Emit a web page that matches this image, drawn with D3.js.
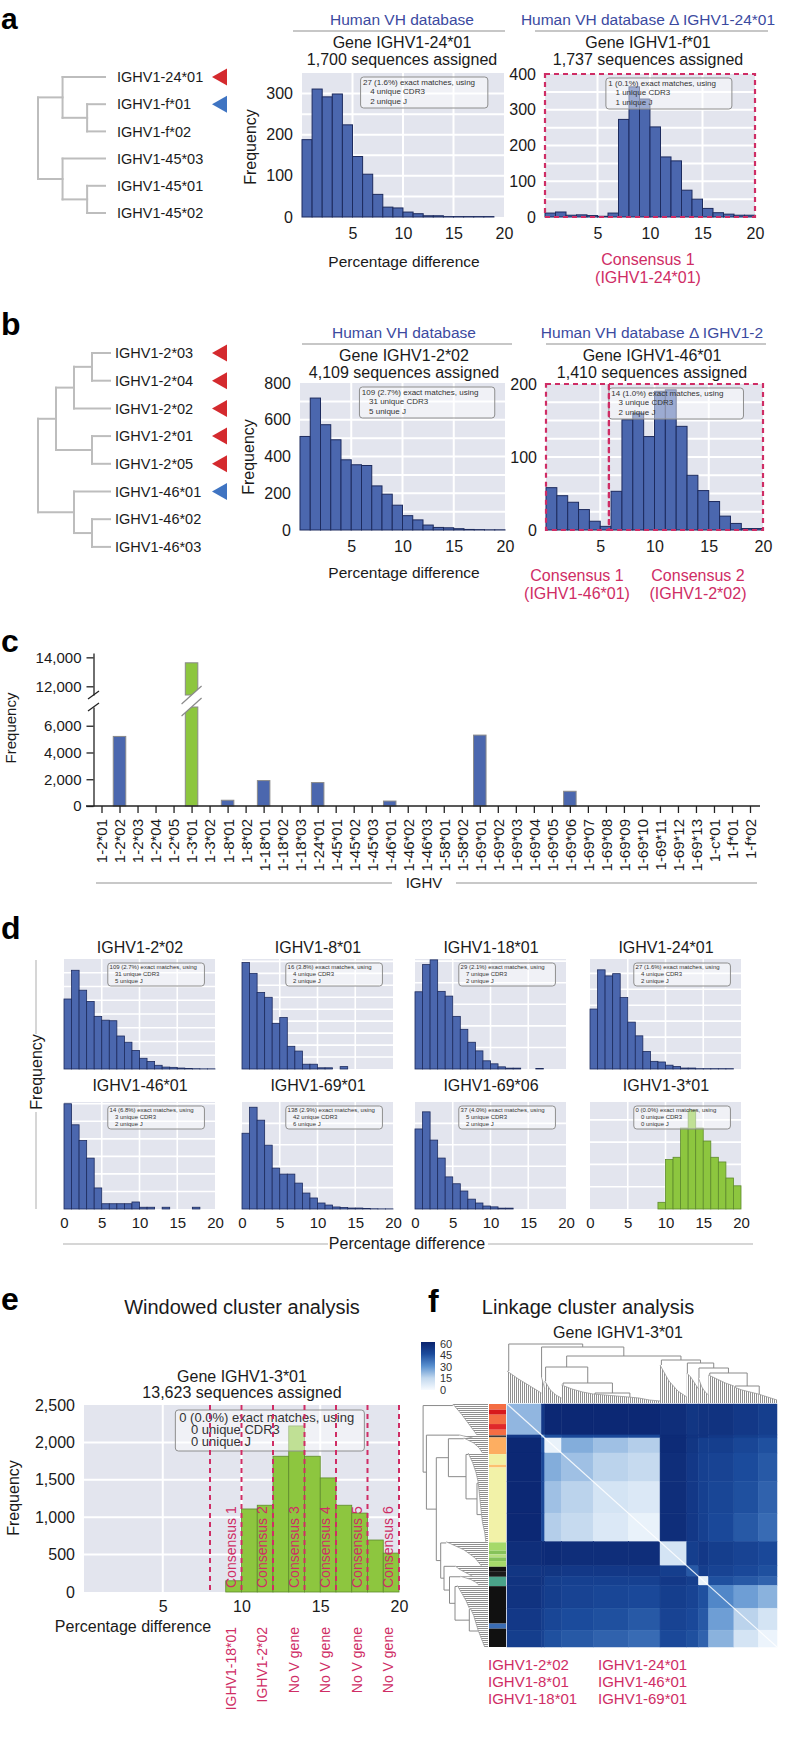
<!DOCTYPE html>
<html>
<head>
<meta charset="utf-8">
<script src="https://cdn.jsdelivr.net/npm/d3@7"></script>
<style>
  body { margin: 0; background: #fff; }
  svg { display: block; font-family: "Liberation Sans", Arial, Helvetica, sans-serif; }
</style>
</head>
<body>
<svg id="chart"></svg>
<script>
// ---------------- DATA ----------------
// a / b : allele dendrograms (h = merge height)
const treeA = {h: 3, c: [
  {h: 1.9, c: ['IGHV1-24*01', {h: 0.8, c: ['IGHV1-f*01', 'IGHV1-f*02']}]},
  {h: 1.9, c: ['IGHV1-45*03', {h: 0.8, c: ['IGHV1-45*01', 'IGHV1-45*02']}]}
]};
const marksA = {'IGHV1-24*01': 'red', 'IGHV1-f*01': 'blue'};
const treeB = {h: 4, c: [
  {h: 3, c: [{h: 2, c: [{h: 1, c: ['IGHV1-2*03', 'IGHV1-2*04']}, 'IGHV1-2*02']},
             {h: 1, c: ['IGHV1-2*01', 'IGHV1-2*05']}]},
  {h: 2, c: ['IGHV1-46*01', {h: 1, c: ['IGHV1-46*02', 'IGHV1-46*03']}]}
]};
const marksB = {'IGHV1-2*03': 'red', 'IGHV1-2*04': 'red', 'IGHV1-2*02': 'red',
  'IGHV1-2*01': 'red', 'IGHV1-2*05': 'red', 'IGHV1-46*01': 'blue'};

// histograms, 1% bins from 0 to 20
const histA1 = [188, 311, 292, 299, 224, 147, 104, 55, 24, 22, 12, 8, 3, 3, 1, 1, 1, 1, 1, 0];
const histA2 = [11, 14, 5, 6, 4, 2, 11, 273, 364, 330, 252, 168, 157, 75, 50, 24, 12, 8, 5, 5];
const histB1 = [509, 718, 573, 491, 382, 355, 351, 240, 195, 135, 78, 55, 27, 14, 12, 7, 3, 2, 1, 1];
const histB2 = [58, 47, 38, 28, 12, 5, 53, 151, 160, 128, 190, 192, 142, 75, 54, 39, 19, 9, 2, 2];
const hist8_01 = [89, 80, 64, 60, 38, 43, 19, 15, 4, 4, 1, 1, 0, 2, 0, 0, 0, 0, 0, 0];
const hist18_01 = [179, 242, 253, 180, 169, 122, 92, 62, 42, 19, 12, 5, 2, 2, 0, 0, 1, 0, 0, 0];
const hist46_01 = [60, 48, 39, 29, 12, 3, 3, 3, 3, 4, 1, 1, 0, 1, 0, 0, 0, 1, 0, 0];
const hist69_01 = [708, 951, 830, 597, 382, 326, 326, 242, 149, 103, 56, 37, 19, 14, 9, 9, 4, 2, 1, 1];
const hist69_06 = [187, 227, 161, 119, 75, 59, 42, 23, 14, 7, 5, 2, 2, 0, 0, 0, 0, 0, 0, 0];
const hist3_01 = [0, 0, 0, 0, 0, 0, 0, 0, 0, 150, 1110, 1160, 1815, 2220, 1815, 1525, 1160, 1055, 695, 520];

// c : assignments per IGHV1 allele
const cCategories = ['1-2*01', '1-2*02', '1-2*03', '1-2*04', '1-2*05', '1-3*01', '1-3*02', '1-8*01',
  '1-8*02', '1-18*01', '1-18*02', '1-18*03', '1-24*01', '1-45*01', '1-45*02', '1-45*03', '1-46*01',
  '1-46*02', '1-46*03', '1-58*01', '1-58*02', '1-69*01', '1-69*02', '1-69*03', '1-69*04', '1-69*05',
  '1-69*06', '1-69*07', '1-69*08', '1-69*09', '1-69*10', '1-69*11', '1-69*12', '1-69*13', '1-c*01',
  '1-f*01', '1-f*02'];
const cValues = [0, 5200, 0, 0, 0, 13623, 0, 430, 0, 1900, 0, 0, 1750, 0, 0, 0, 370, 0, 0, 0, 0,
  5300, 0, 0, 0, 0, 1100, 0, 0, 0, 0, 0, 0, 0, 0, 0, 0];
const cHighlight = ['1-3*01'];
const cTicksLow = [0, 2000, 4000, 6000];
const cTicksHigh = [12000, 14000];

// e : windows and their assignments
const eWindows = [8, 10, 12, 14, 16, 18, 20];
const eConsensus = ['Consensus 1', 'Consensus 2', 'Consensus 3', 'Consensus 4', 'Consensus 5', 'Consensus 6'];
const eAssigned = ['IGHV1-18*01', 'IGHV1-2*02', 'No V gene', 'No V gene', 'No V gene', 'No V gene'];

// f : linkage clusters (leaf counts), block distances and dendrogram outlines
const hmNames = ['A', 'B0', 'B1', 'B2', 'B3', 'B4', 'C', 'S', 'D', 'E1', 'E2', 'E3'];
const hmSizes = [103, 10, 50, 95, 105, 95, 80, 35, 30, 76, 73, 56];
const hmDist = [
  [22, 52, 58, 58, 58, 58, 56, 53, 54, 54, 52, 50],
  [52, 30, 44, 46, 46, 46, 57, 54, 54, 52, 50, 48],
  [58, 44, 4, 24, 20, 17, 57, 53, 50, 50, 47, 44],
  [58, 46, 24, 20, 16, 14, 56, 52, 49, 48, 45, 42],
  [58, 46, 20, 16, 10, 8, 56, 52, 49, 47, 44, 40],
  [58, 46, 17, 14, 8, 4, 56, 52, 49, 46, 42, 38],
  [56, 57, 57, 56, 56, 56, 10, 50, 52, 50, 48, 46],
  [53, 54, 53, 52, 52, 52, 50, 42, 50, 48, 46, 44],
  [54, 54, 50, 49, 49, 49, 52, 50, 4, 44, 42, 40],
  [54, 52, 50, 48, 47, 46, 50, 48, 44, 32, 27, 23],
  [52, 50, 47, 45, 44, 42, 48, 46, 42, 27, 16, 10],
  [50, 48, 44, 42, 40, 38, 46, 44, 40, 23, 10, 3]
];
const hmSky = [[32, 24, 17, 10], [26, 22, 18, 14], [22, 13, 8, 5], [18, 14, 11, 9], [9, 8, 7, 6],
  [6, 5, 3, 2], [38, 22, 12, 6], [30, 26, 20, 14], [25, 16, 11, 8], [28, 24, 20, 17],
  [16, 13, 11, 9], [9, 7, 5, 3]];
const hmTree = {h: 59, c: ['A', {h: 56, c: ['B0', {h: 47, c: [
  {h: 36, c: ['B1', {h: 20, c: ['B2', {h: 10, c: ['B3', 'B4']}]}]},
  {h: 43, c: ['C', {h: 40, c: ['S', {h: 35, c: ['D', {h: 30, c: ['E1', {h: 17, c: ['E2', 'E3']}]}]}]}]}
]}]}]};
const stripSizes = [17, 15, 28, 17, 17, 6, 50, 32, 8, 224, 25, 11, 9, 11, 17, 15, 15, 28, 112, 15, 55];
const stripColors = ['#f46d43', '#d7191c', '#f46d43', '#e0282a', '#f46d43', '#3a3a3a', '#fdae61',
  '#f1f1a2', '#fdc070', '#f2f2a8', '#a6d96a', '#86c25a', '#b6df7e', '#86c25a', '#a6d96a', '#111111',
  '#1a1a1a', '#4aa38a', '#111111', '#3a6db5', '#111111'];
const cbTicks = [0, 15, 30, 45, 60];
const fLabelsLeft = ['IGHV1-2*02', 'IGHV1-8*01', 'IGHV1-18*01'];
const fLabelsRight = ['IGHV1-24*01', 'IGHV1-46*01', 'IGHV1-69*01'];

// ---------------- SETUP ----------------
const INK = '#1a1a1a', TITLE_BLUE = '#3b4a9f', CRIMSON = '#cf2d65';
const BG = '#e3e5ee', BAR = '#4b67ae', BAR_EDGE = '#1d2b5e', GREEN = '#8dc63f', GREEN_EDGE = '#5e8a2c';
const TREE = '#bdbdbd', RED_MARK = '#d42a2e', BLUE_MARK = '#3f74c2';

const svg = d3.select('#chart').attr('width', 786).attr('height', 1755);
svg.append('rect').attr('width', 786).attr('height', 1755).attr('fill', '#fff');
const defs = svg.append('defs');

function txt(g, x, y, s, size, o = {}) {
  return g.append('text').attr('x', x).attr('y', y).attr('font-size', size)
    .attr('fill', o.fill || INK).attr('text-anchor', o.anchor || 'start')
    .attr('font-weight', o.weight || null).text(s);
}
// vertical text read bottom to top, xc = visual centre of the glyphs
function vtxt(g, xc, y, s, size, o = {}) {
  const x = xc + size * 0.36;
  return txt(g, x, y, s, size, o).attr('transform', `rotate(-90,${x},${y})`);
}
function line(g, x1, y1, x2, y2, color, w, dash) {
  return g.append('line').attr('x1', x1).attr('y1', y1).attr('x2', x2).attr('y2', y2)
    .attr('stroke', color).attr('stroke-width', w).attr('stroke-dasharray', dash || null);
}

// ---------------- TREES ----------------
function drawTree(g, tree, marks, o) {
  const root = d3.hierarchy(tree, d => d.c);
  const leaves = root.leaves();
  const xh = d3.scaleLinear().domain([0, o.hMax]).range([o.leafX, o.rootX]);
  const row = d3.scaleLinear().domain([0, 1]).range([o.y0, o.y0 + o.step]);
  leaves.forEach((l, i) => { l.py = row(i); });
  root.eachAfter(n => {
    if (n.children) n.py = (n.children[0].py + n.children[n.children.length - 1].py) / 2;
  });
  const hOf = n => (n.children ? n.data.h : 0);
  const segs = [];
  root.descendants().filter(n => n.children).forEach(n => {
    const x = xh(n.data.h);
    segs.push([x, n.children[0].py, x, n.children[n.children.length - 1].py]);
    n.children.forEach(c => segs.push([x, c.py, xh(hOf(c)), c.py]));
  });
  g.selectAll(null).data(segs).join('line')
    .attr('x1', d => d[0]).attr('y1', d => d[1]).attr('x2', d => d[2]).attr('y2', d => d[3])
    .attr('stroke', TREE).attr('stroke-width', 2).attr('stroke-linecap', 'square');
  g.selectAll(null).data(leaves).join('text')
    .attr('x', o.labelX).attr('y', d => d.py).attr('dy', '0.36em')
    .attr('font-size', 14.5).attr('fill', INK).text(d => d.data);
  g.selectAll(null).data(leaves.filter(d => marks[d.data])).join('path')
    .attr('d', d => `M${o.markX + 15},${d.py - 8.5}L${o.markX},${d.py}L${o.markX + 15},${d.py + 8.5}Z`)
    .attr('fill', d => (marks[d.data] === 'red' ? RED_MARK : BLUE_MARK));
}

// ---------------- HISTOGRAM ----------------
function histogram(parent, o) {
  const g = parent.append('g');
  const x = d3.scaleLinear().domain([0, 20]).range([o.left, o.left + o.width]);
  const y = d3.scaleLinear().domain([0, o.yMax]).range([o.top + o.height, o.top]);
  g.append('rect').attr('x', o.left).attr('y', o.top).attr('width', o.width).attr('height', o.height)
    .attr('fill', BG);
  const gridY = o.gridStep ? d3.range(o.gridStep, o.yMax, o.gridStep) : y.ticks(7).filter(v => v > 0 && v < o.yMax);
  g.selectAll(null).data(gridY).join('line')
    .attr('x1', o.left).attr('x2', o.left + o.width).attr('y1', d => y(d)).attr('y2', d => y(d))
    .attr('stroke', '#fff').attr('stroke-width', o.gridW || 2);
  g.selectAll(null).data([5, 10, 15]).join('line')
    .attr('x1', d => x(d)).attr('x2', d => x(d)).attr('y1', o.top).attr('y2', o.top + o.height)
    .attr('stroke', '#fff').attr('stroke-width', o.gridW || 2);

  const bars = o.values.map((v, i) => ({v, i})).filter(d => d.v > 0);
  g.selectAll(null).data(bars).join('rect')
    .attr('x', d => x(d.i)).attr('width', d => x(d.i + 1) - x(d.i))
    .attr('y', d => y(Math.min(d.v, o.yMax))).attr('height', d => y(0) - y(Math.min(d.v, o.yMax)))
    .attr('fill', o.fill || BAR).attr('stroke', o.edge || BAR_EDGE).attr('stroke-width', o.edgeW || 1);

  if (o.yTicks) {
    const ax = g.append('g').attr('transform', `translate(${o.left},0)`)
      .call(d3.axisLeft(y).tickValues(o.yTicks).tickFormat(d3.format(',')).tickSize(0).tickPadding(9));
    ax.select('.domain').remove();
    ax.attr('font-size', o.tickFont || 16).attr('font-family', null);
    ax.selectAll('text').attr('fill', INK);
  }
  if (o.xTicks) {
    const ax = g.append('g').attr('transform', `translate(0,${o.top + o.height})`)
      .call(d3.axisBottom(x).tickValues(o.xTicks).tickSize(0).tickPadding(o.xPad || 10.5));
    ax.select('.domain').remove();
    ax.attr('font-size', o.tickFont || 16).attr('font-family', null);
    ax.selectAll('text').attr('fill', INK);
  }
  if (o.box) {
    const b = o.box;
    const bx = o.left + o.width * 0.29, by = o.top + (b.dy || 4);
    g.append('rect').attr('x', bx).attr('y', by).attr('width', o.width * b.w).attr('height', b.h)
      .attr('rx', 3).attr('fill', '#fff').attr('fill-opacity', 0.45)
      .attr('stroke', '#8e8e8e').attr('stroke-width', 1);
    b.lines.forEach((s, k) => {
      txt(g, bx + b.size * 0.3 + (k ? b.size * 0.9 : 0), by + b.size * 0.95 + k * b.lh, s, b.size, {fill: '#333'});
    });
  }
  (o.frames || []).forEach(f => {
    g.append('rect').attr('x', x(f[0])).attr('y', o.top).attr('width', x(f[1]) - x(f[0]))
      .attr('height', o.height).attr('fill', 'none').attr('stroke', CRIMSON)
      .attr('stroke-width', 2.2).attr('stroke-dasharray', '5,4');
  });
  return {x, y, g};
}

function boxLines(n, pct, cdr3, j) {
  return [`${n} (${pct}%) exact matches, using`, `${cdr3} unique CDR3`, `${j} unique J`];
}

function heading(g, cx, y, title, tx1, tx2, gene, seq) {
  txt(g, cx, y, title, 15.5, {anchor: 'middle', fill: TITLE_BLUE});
  line(g, tx1, y + 6, tx2, y + 6, '#b5b5b5', 1.5);
  txt(g, cx, y + 23, gene, 16, {anchor: 'middle'});
  txt(g, cx, y + 40, seq, 16, {anchor: 'middle'});
}

// ---------------- PANEL A ----------------
const ga = svg.append('g');
txt(ga, 1, 29, 'a', 30, {weight: 'bold', fill: '#000'});
drawTree(ga, treeA, marksA, {hMax: 3, leafX: 105, rootX: 38, y0: 77, step: 27.2, labelX: 117, markX: 212});
heading(ga, 402, 25, 'Human VH database', 293, 505, 'Gene IGHV1-24*01', '1,700 sequences assigned');
heading(ga, 648, 25, 'Human VH database \u0394 IGHV1-24*01', 535, 768, 'Gene IGHV1-f*01', '1,737 sequences assigned');
histogram(ga, {left: 302, top: 73, width: 202, height: 144, values: histA1, yMax: 350, gridStep: 50,
  yTicks: [0, 100, 200, 300], xTicks: [5, 10, 15, 20],
  box: {w: 0.63, h: 31, size: 8, lh: 9.5, lines: boxLines(27, '1.6', 4, 2)}});
vtxt(ga, 250, 147, 'Frequency', 16, {anchor: 'middle'});
txt(ga, 404, 267, 'Percentage difference', 15.5, {anchor: 'middle'});
histogram(ga, {left: 545, top: 74, width: 210, height: 143, values: histA2, yMax: 400, gridStep: 50,
  yTicks: [0, 100, 200, 300, 400], xTicks: [5, 10, 15, 20], frames: [[0, 20]],
  box: {w: 0.6, h: 31, size: 8, lh: 9.5, lines: boxLines(1, '0.1', 1, 1)}});
txt(ga, 648, 265, 'Consensus 1', 16, {anchor: 'middle', fill: CRIMSON});
txt(ga, 648, 283, '(IGHV1-24*01)', 16, {anchor: 'middle', fill: CRIMSON});

// ---------------- PANEL B ----------------
const gb = svg.append('g');
txt(gb, 1, 335, 'b', 32, {weight: 'bold', fill: '#000'});
drawTree(gb, treeB, marksB, {hMax: 4, leafX: 110, rootX: 38, y0: 353, step: 27.7, labelX: 115, markX: 212});
heading(gb, 404, 338, 'Human VH database', 302, 512, 'Gene IGHV1-2*02', '4,109 sequences assigned');
heading(gb, 652, 338, 'Human VH database \u0394 IGHV1-2', 546, 766, 'Gene IGHV1-46*01', '1,410 sequences assigned');
histogram(gb, {left: 300, top: 383, width: 205, height: 147, values: histB1, yMax: 800, gridStep: 100,
  yTicks: [0, 200, 400, 600, 800], xTicks: [5, 10, 15, 20],
  box: {w: 0.66, h: 31, size: 8, lh: 9.5, lines: boxLines(109, '2.7', 31, 5)}});
vtxt(gb, 248, 457, 'Frequency', 16, {anchor: 'middle'});
txt(gb, 404, 578, 'Percentage difference', 15.5, {anchor: 'middle'});
histogram(gb, {left: 546, top: 384, width: 217, height: 146, values: histB2, yMax: 200, gridStep: 25,
  yTicks: [0, 100, 200], xTicks: [5, 10, 15, 20], frames: [[0, 5.8], [5.8, 20]],
  box: {w: 0.62, h: 31, size: 8, lh: 9.5, lines: boxLines(14, '1.0', 3, 2)}});
txt(gb, 577, 581, 'Consensus 1', 16, {anchor: 'middle', fill: CRIMSON});
txt(gb, 577, 599, '(IGHV1-46*01)', 16, {anchor: 'middle', fill: CRIMSON});
txt(gb, 698, 581, 'Consensus 2', 16, {anchor: 'middle', fill: CRIMSON});
txt(gb, 698, 599, '(IGHV1-2*02)', 16, {anchor: 'middle', fill: CRIMSON});

// ---------------- PANEL C ----------------
const gc = svg.append('g');
txt(gc, 1, 652, 'c', 32, {weight: 'bold', fill: '#000'});
const cx = d3.scalePoint().domain(cCategories).range([101.5, 750]);
const cyLow = d3.scaleLinear().domain([0, 7400]).range([806, 707]);
const cyHigh = d3.scaleLinear().domain([11400, 14300]).range([695, 653]);
const lowMax = cyLow.domain()[1];
const cBars = cCategories.map((k, i) => ({k, v: cValues[i]})).filter(d => d.v > 0);
const cFill = d => (cHighlight.includes(d.k) ? GREEN : BAR);
gc.selectAll(null).data(cBars).join('rect')
  .attr('x', d => cx(d.k) - 6.25).attr('width', 12.5)
  .attr('y', d => cyLow(Math.min(d.v, lowMax))).attr('height', d => cyLow(0) - cyLow(Math.min(d.v, lowMax)))
  .attr('fill', cFill).attr('stroke', '#8a8a8a').attr('stroke-width', 1);
gc.selectAll(null).data(cBars.filter(d => d.v > lowMax)).join('rect')
  .attr('x', d => cx(d.k) - 6.25).attr('width', 12.5)
  .attr('y', d => cyHigh(d.v)).attr('height', d => cyHigh.range()[0] - cyHigh(d.v))
  .attr('fill', cFill).attr('stroke', '#8a8a8a').attr('stroke-width', 1);
// break bands across the broken bars
cBars.filter(d => d.v > lowMax).forEach(d => {
  const px = cx(d.k);
  gc.append('path').attr('d', `M${px - 10},${716}L${px + 10},${698}L${px + 10},${686}L${px - 10},${704}Z`)
    .attr('fill', '#fff');
  line(gc, px - 10, 716, px + 10, 698, '#8a8a8a', 1.2);
  line(gc, px - 10, 704, px + 10, 686, '#8a8a8a', 1.2);
});
[cyLow, cyHigh].forEach((sc, k) => {
  const ax = gc.append('g').attr('transform', 'translate(93.5,0)')
    .call(d3.axisLeft(sc).tickValues(k ? cTicksHigh : cTicksLow).tickFormat(d3.format(','))
      .tickSize(7).tickSizeOuter(0).tickPadding(5));
  ax.attr('font-size', 15).attr('font-family', null);
  ax.selectAll('text').attr('fill', INK);
  ax.selectAll('path,line').attr('stroke', '#222').attr('stroke-width', 1.3);
});
line(gc, 88, 699, 99, 691, '#222', 1.3);
line(gc, 88, 711, 99, 703, '#222', 1.3);
const axC = gc.append('g').attr('transform', 'translate(0,806)')
  .call(d3.axisBottom(cx).tickSize(7).tickSizeOuter(0));
axC.select('.domain').remove();
axC.attr('font-size', 15).attr('font-family', null);
axC.selectAll('line').attr('stroke', '#222').attr('stroke-width', 1.3);
axC.selectAll('text').attr('fill', INK).attr('transform', 'rotate(-90)')
  .attr('text-anchor', 'end').attr('x', -13).attr('y', 0).attr('dy', '0.36em');
line(gc, 86, 806, 760, 806, '#222', 1.3);
vtxt(gc, 11, 728, 'Frequency', 15, {anchor: 'middle'});
txt(gc, 424, 888, 'IGHV', 15, {anchor: 'middle'});
line(gc, 96, 883, 392, 883, '#c8c8c8', 2);
line(gc, 456, 883, 757, 883, '#c8c8c8', 2);

// ---------------- PANEL D ----------------
const gd = svg.append('g');
txt(gd, 1, 939, 'd', 32, {weight: 'bold', fill: '#000'});
const dLefts = [64, 242, 415, 590];
const dRows = [{top: 959, height: 110, title: 953}, {top: 1102, height: 107, title: 1091}];
const dPanels = [
  {t: 'IGHV1-2*02', v: histB1, yMax: 800, b: boxLines(109, '2.7', 31, 5)},
  {t: 'IGHV1-8*01', v: hist8_01, yMax: 92, b: boxLines(16, '3.8', 4, 2)},
  {t: 'IGHV1-18*01', v: hist18_01, yMax: 255, b: boxLines(29, '2.1', 7, 2)},
  {t: 'IGHV1-24*01', v: histA1, yMax: 345, b: boxLines(27, '1.6', 4, 2)},
  {t: 'IGHV1-46*01', v: hist46_01, yMax: 61, b: boxLines(14, '6.8', 3, 2)},
  {t: 'IGHV1-69*01', v: hist69_01, yMax: 1000, b: boxLines(138, '2.9', 42, 6)},
  {t: 'IGHV1-69*06', v: hist69_06, yMax: 250, b: boxLines(37, '4.0', 5, 2)},
  {t: 'IGHV1-3*01', v: hist3_01, yMax: 2400, b: boxLines(0, '0.0', 0, 0), green: true}
];
dPanels.forEach((p, i) => {
  const r = dRows[Math.floor(i / 4)], left = dLefts[i % 4];
  histogram(gd, {left, top: r.top, width: 151, height: r.height, values: p.v, yMax: p.yMax,
    gridW: 1.6, xTicks: i >= 4 ? [0, 5, 10, 15, 20] : null, tickFont: 15, xPad: 8.5,
    fill: p.green ? GREEN : BAR, edge: p.green ? GREEN_EDGE : BAR_EDGE, edgeW: 0.8,
    box: {w: 0.64, h: 23, size: 6, lh: 7, lines: p.b}});
  txt(gd, left + 76, r.title, p.t, 16, {anchor: 'middle'});
});
vtxt(gd, 36, 1072, 'Frequency', 16, {anchor: 'middle'});
line(gd, 36, 960, 36, 1034, '#c8c8c8', 1.5);
line(gd, 36, 1112, 36, 1209, '#c8c8c8', 1.5);
txt(gd, 407, 1249, 'Percentage difference', 16, {anchor: 'middle'});
line(gd, 63, 1244, 328, 1244, '#c8c8c8', 1.5);
line(gd, 488, 1244, 753, 1244, '#c8c8c8', 1.5);

// ---------------- PANEL E ----------------
const ge = svg.append('g');
txt(ge, 1, 1310, 'e', 32, {weight: 'bold', fill: '#000'});
txt(ge, 242, 1314, 'Windowed cluster analysis', 20, {anchor: 'middle'});
txt(ge, 242, 1382, 'Gene IGHV1-3*01', 16, {anchor: 'middle'});
txt(ge, 242, 1398, '13,623 sequences assigned', 16, {anchor: 'middle'});
const he = histogram(ge, {left: 84, top: 1405, width: 315, height: 187, values: hist3_01, yMax: 2500,
  gridStep: 500, yTicks: [0, 500, 1000, 1500, 2000, 2500], xTicks: [5, 10, 15, 20], xPad: 9,
  fill: GREEN, edge: GREEN_EDGE, edgeW: 0.8,
  box: {w: 0.6, h: 41, size: 13, lh: 12, dy: 5, lines: boxLines(0, '0.0', 0, 0)}});
ge.selectAll(null).data(eWindows).join('line')
  .attr('x1', d => he.x(d)).attr('x2', d => he.x(d)).attr('y1', 1405).attr('y2', 1592)
  .attr('stroke', CRIMSON).attr('stroke-width', 2).attr('stroke-dasharray', '5,4');
eConsensus.forEach((s, k) => {
  const xc = he.x((eWindows[k] + eWindows[k + 1]) / 2) + 5;
  vtxt(ge, xc, 1588, s, 14, {fill: CRIMSON});
  vtxt(ge, xc, 1627, eAssigned[k], 14, {fill: CRIMSON, anchor: 'end'});
});
vtxt(ge, 13, 1498, 'Frequency', 16, {anchor: 'middle'});
txt(ge, 133, 1632, 'Percentage difference', 16, {anchor: 'middle'});

// ---------------- PANEL F ----------------
const gf = svg.append('g');
txt(gf, 428, 1312, 'f', 32, {weight: 'bold', fill: '#000'});
txt(gf, 588, 1314, 'Linkage cluster analysis', 20, {anchor: 'middle'});
txt(gf, 618, 1338, 'Gene IGHV1-3*01', 16, {anchor: 'middle'});

const hmTotal = d3.sum(hmSizes);
const hmStart = hmSizes.map((s, i) => d3.sum(hmSizes.slice(0, i)));
const hx = d3.scaleLinear().domain([0, hmTotal]).range([507, 777]);
const hy = d3.scaleLinear().domain([0, hmTotal]).range([1404, 1647]);
const hmColor = d3.scaleLinear().domain([0, 15, 30, 45, 60])
  .range(['#f7fbff', '#c2d8ee', '#5990cf', '#1b4b9c', '#0a236e']);

const cells = [];
hmNames.forEach((r, i) => hmNames.forEach((c, j) => cells.push({i, j, d: hmDist[i][j]})));
gf.selectAll(null).data(cells).join('rect')
  .attr('x', d => hx(hmStart[d.j])).attr('width', d => hx(hmStart[d.j] + hmSizes[d.j]) - hx(hmStart[d.j]))
  .attr('y', d => hy(hmStart[d.i])).attr('height', d => hy(hmStart[d.i] + hmSizes[d.i]) - hy(hmStart[d.i]))
  .attr('fill', d => hmColor(d.d)).attr('stroke', d => hmColor(d.d)).attr('stroke-width', 0.5);
line(gf, hx(0), hy(0), hx(hmTotal), hy(hmTotal), '#ffffff', 1.2).attr('stroke-opacity', 0.85);

// colour strip
const stripStart = stripSizes.map((s, i) => d3.sum(stripSizes.slice(0, i)));
const sy = d3.scaleLinear().domain([0, d3.sum(stripSizes)]).range([1404, 1647]);
gf.selectAll(null).data(stripSizes).join('rect')
  .attr('x', 489).attr('width', 17)
  .attr('y', (d, i) => sy(stripStart[i])).attr('height', (d, i) => sy(stripStart[i] + d) - sy(stripStart[i]))
  .attr('fill', (d, i) => stripColors[i]);

// dendrogram patterns
const pv = defs.append('pattern').attr('id', 'vlines').attr('width', 2).attr('height', 4)
  .attr('patternUnits', 'userSpaceOnUse');
pv.append('rect').attr('width', 1).attr('height', 4).attr('fill', '#8f8f8f');
const ph = defs.append('pattern').attr('id', 'hlines').attr('width', 4).attr('height', 2)
  .attr('patternUnits', 'userSpaceOnUse');
ph.append('rect').attr('width', 4).attr('height', 1).attr('fill', '#8f8f8f');

function clusterDendro(g, orient) {
  const top = orient === 'top';
  const pos = top ? hx : hy;
  const hS = top ? d3.scaleLinear().domain([0, 60]).range([1403, 1343])
                 : d3.scaleLinear().domain([0, 60]).range([488, 422]);
  const pt = (p, h) => (top ? [p, hS(h)] : [hS(h), p]);
  const root = d3.hierarchy(hmTree, d => d.c);
  root.leaves().forEach(l => {
    const i = hmNames.indexOf(l.data);
    l.p = pos(hmStart[i] + hmSizes[i] * 0.05);
    l.top = hmSky[i][0];
  });
  root.eachAfter(n => {
    if (n.children) { n.p = d3.mean(n.children, c => c.p); n.top = n.data.h; }
  });
  // leaf cluster outlines
  hmNames.forEach((nm, i) => {
    const pts = hmSky[i].map((h, k) => ({p: pos(hmStart[i] + hmSizes[i] * k / (hmSky[i].length - 1)), h}));
    const area = top
      ? d3.area().x(d => d.p).y0(hS(0)).y1(d => hS(d.h))
      : d3.area().y(d => d.p).x0(hS(0)).x1(d => hS(d.h));
    g.append('path').attr('d', area(pts)).attr('fill', top ? 'url(#vlines)' : 'url(#hlines)');
    g.append('path').attr('d', (top ? d3.line().x(d => d.p).y(d => hS(d.h)) : d3.line().y(d => d.p).x(d => hS(d.h)))(pts))
      .attr('fill', 'none').attr('stroke', '#9a9a9a').attr('stroke-width', 0.8);
  });
  const segs = [];
  root.descendants().filter(n => n.children).forEach(n => {
    const a = n.children[0], b = n.children[n.children.length - 1];
    segs.push([pt(a.p, n.data.h), pt(b.p, n.data.h)]);
    n.children.forEach(c => segs.push([pt(c.p, n.data.h), pt(c.p, c.top)]));
  });
  g.selectAll(null).data(segs).join('line')
    .attr('x1', d => d[0][0]).attr('y1', d => d[0][1]).attr('x2', d => d[1][0]).attr('y2', d => d[1][1])
    .attr('stroke', '#8a8a8a').attr('stroke-width', 1);
}
clusterDendro(gf, 'top');
clusterDendro(gf, 'left');

// colour bar
const grad = defs.append('linearGradient').attr('id', 'cbar').attr('x1', 0).attr('x2', 0).attr('y1', 1).attr('y2', 0);
cbTicks.forEach(t => grad.append('stop').attr('offset', t / 60).attr('stop-color', hmColor(t)));
const cbY = d3.scaleLinear().domain([0, 60]).range([1390, 1344]);
gf.append('rect').attr('x', 421).attr('y', 1342).attr('width', 14).attr('height', 48).attr('fill', 'url(#cbar)');
gf.selectAll(null).data(cbTicks).join('text')
  .attr('x', 440).attr('y', d => cbY(d)).attr('dy', '0.36em').attr('font-size', 11).attr('fill', '#333')
  .text(d => d);

fLabelsLeft.forEach((s, k) => txt(gf, 488, 1670 + k * 17, s, 15, {fill: CRIMSON}));
fLabelsRight.forEach((s, k) => txt(gf, 598, 1670 + k * 17, s, 15, {fill: CRIMSON}));
</script>
</body>
</html>
